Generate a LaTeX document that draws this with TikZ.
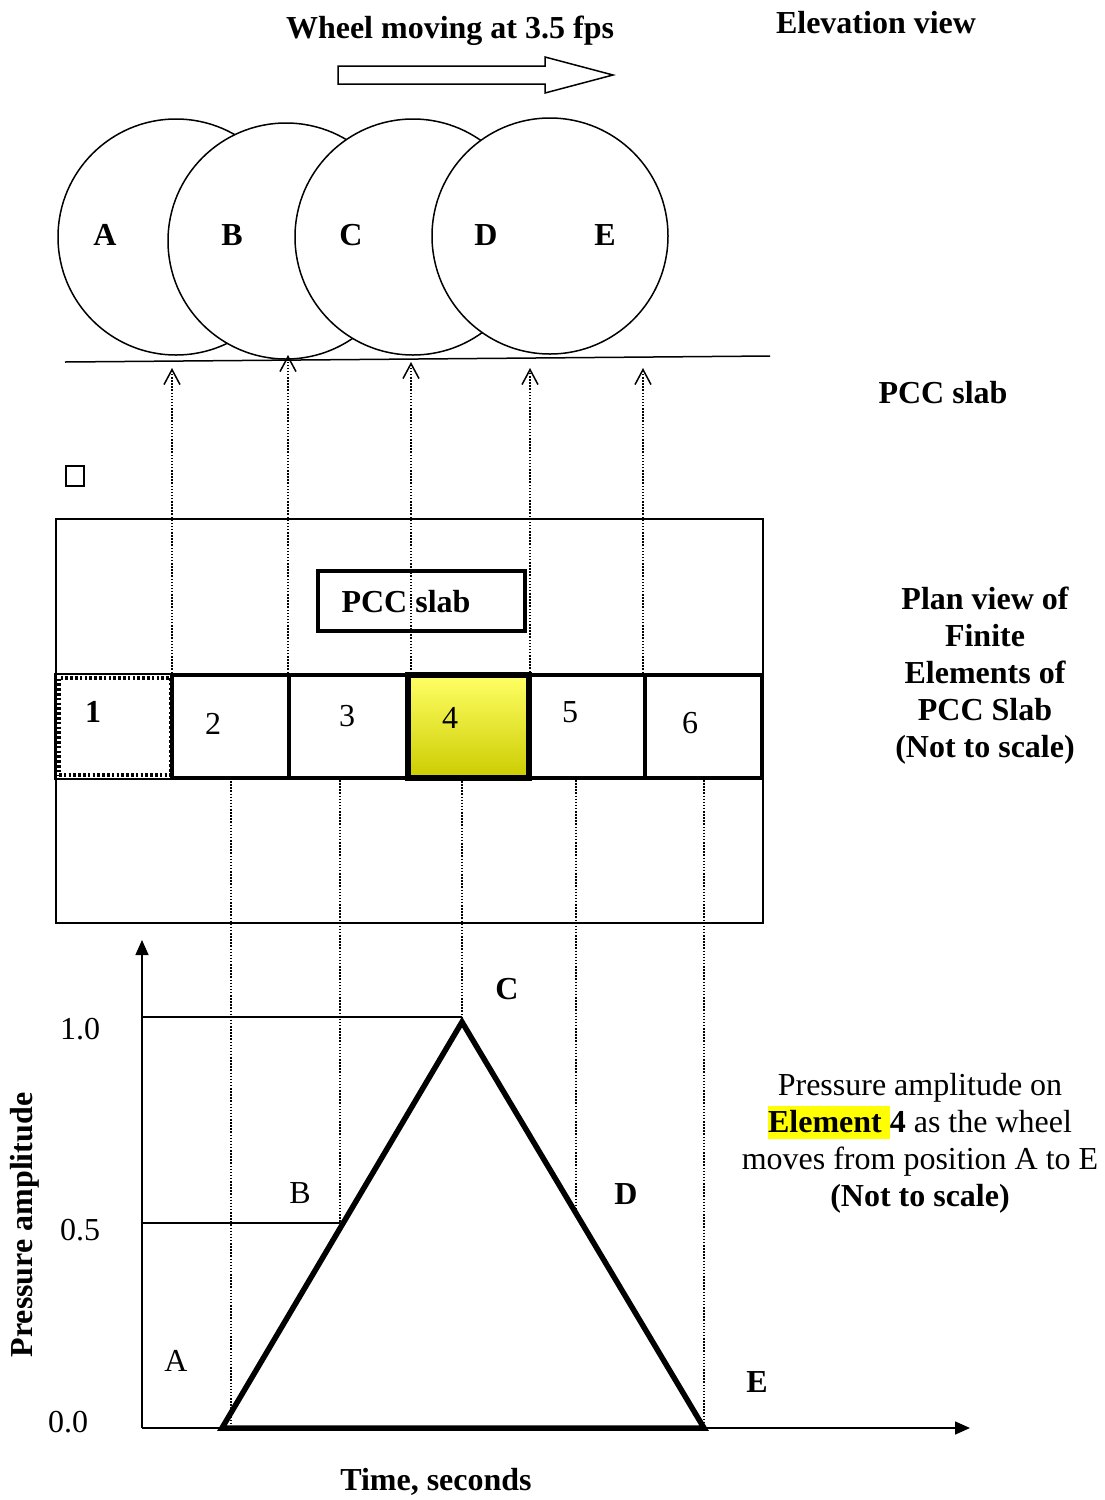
\documentclass[tikz,border=0pt]{standalone}
\usepackage{fontspec}
\setmainfont{Liberation Serif}
\usetikzlibrary{arrows.meta}
\definecolor{ytop}{HTML}{FFFF66}
\definecolor{ybot}{HTML}{CCCC00}
\definecolor{hl}{HTML}{FFFF00}
\begin{document}
\begin{tikzpicture}[x=1pt,y=-1pt,
  txt/.style={font=\fontsize{32}{37}\selectfont, inner sep=0pt},
  btxt/.style={font=\fontsize{32}{37}\selectfont\bfseries, inner sep=0pt},
  wheel/.style={circle, draw, line width=1.5pt, fill=white, minimum size=236pt, inner sep=0pt},
  elem/.style={rectangle, draw, line width=4pt, minimum height=103pt, inner sep=0pt},
  dotln/.style={line width=1.5pt, dash pattern=on 1.5pt off 1.6pt},
  fineln/.style={line width=1.5pt},
  uptip/.style={-{Straight Barb[length=15pt,width=16pt,line width=1.5pt]}},
  axtip/.style={-{Triangle[length=15pt,width=13pt]}},
]
\useasboundingbox (0,0) rectangle (1104,1500);
\fill[white] (0,0) rectangle (1104,1500);

% ---------- Elevation view ----------
\node[btxt] (title) at (450,31) {Wheel moving at 3.5 fps};
\node[btxt] (elev) at (876,23) {Elevation view};
\draw[fineln, fill=white] (338,66) -- (545,66) -- (545,57) -- (613,75) -- (545,93) -- (545,84) -- (338,84) -- cycle;

\node[wheel] (wA) at (176,237) {};
\node[wheel] (wB) at (286,241) {};
\node[wheel] (wC) at (413,237) {};
\node[wheel] (wD) at (550,236) {};
\node[btxt] (lA) at (105,235) {A};
\node[btxt] (lB) at (232,235) {B};
\node[btxt] (lC) at (351,235) {C};
\node[btxt] (lD) at (486,235) {D};
\node[btxt] (lE) at (605,235) {E};

\coordinate (g1) at (65,362);
\coordinate (g2) at (770,356);
\draw[fineln] (g1) -- (g2);
\node[btxt] (pccside) at (943,393) {PCC slab};

% ---------- Plan view ----------
\node[draw, line width=1.5pt, minimum width=18pt, minimum height=20pt, inner sep=0pt] (sq) at (75,476) {};
\node[draw, line width=1.5pt, minimum width=707pt, minimum height=404pt, inner sep=0pt, anchor=north west] (plan) at (55,518) {};
\node[draw, line width=4.5pt, minimum width=207pt, minimum height=60pt, inner sep=0pt] (pccbox) at (421.5,601) {};

\draw[line width=1.5pt] (172,674) -- (55,674) -- (55,779) -- (172,779);
\node[elem, minimum width=112pt, minimum height=97pt, line width=3.5pt, dash pattern=on 2.6pt off 2.2pt] (e1) at (115,726.5) {};
\node[elem, minimum width=117pt] (e2) at (230.5,726.5) {};
\node[elem, minimum width=119pt] (e3) at (348.5,726.5) {};
\node[elem, minimum width=121pt, line width=6pt, top color=ytop, bottom color=ybot] (e4) at (468.5,726.5) {};
\node[elem, minimum width=116pt] (e5) at (587,726.5) {};
\node[elem, minimum width=117pt] (e6) at (703.5,726.5) {};
\node[btxt] (n1) at (93,712) {1};
\node[txt] (n2) at (213,724) {2};
\node[txt] (n3) at (347,716) {3};
\node[txt] (n4) at (450,718) {4};
\node[txt] (n5) at (570,712) {5};
\node[txt] (n6) at (690,723) {6};

\coordinate (tA) at (172,368);
\coordinate (tB) at (288,355);
\coordinate (tC) at (411,362);
\coordinate (tD) at (530,368);
\coordinate (tE) at (643,368);
\draw[dotln, uptip] (tA |- e2.north) -- (tA);
\draw[dotln, uptip] (tB |- e2.north) -- (tB);
\draw[dotln, uptip] (tC |- e3.north) -- (tC);
\draw[dotln, uptip] (tD |- e4.north) -- (tD);
\draw[dotln, uptip] (tE |- e5.north) -- (tE);

\node[btxt] (pcctext) at (406,602) {PCC slab};

\node[btxt, align=center] (planlbl) at (985,676) {Plan view of\\Finite\\Elements of\\PCC Slab\\(Not to scale)};

% ---------- Graph ----------
\coordinate (O) at (142,1428);
\coordinate (yend) at (142,940);
\coordinate (xend) at (970,1428);
\coordinate (t0) at (222,1428);
\coordinate (pk) at (462,1022);
\coordinate (t1) at (704,1428);
\coordinate (hB) at (340,1223);
\coordinate (hD) at (576,1214);
\coordinate (one) at (142,1017);
\coordinate (half) at (142,1223);

\draw[fineln, axtip] (O) -- (yend);
\draw[fineln, axtip] (O) -- (xend);
\draw[fineln] (one) -- (pk |- one);
\draw[fineln] (half) -- (hB);

\draw[dotln] (231,778) -- (231,1428);
\draw[dotln] (hB |- e3.south) -- (hB);
\draw[dotln] (pk |- e4.south) -- (pk |- one);
\draw[dotln] (hD |- e5.south) -- (hD);
\draw[dotln] (t1 |- e6.south) -- (t1);

\draw[line width=5.5pt, line join=miter] (t0) -- (pk) -- (t1) -- cycle;

\node[txt] (y10) at (80,1029) {1.0};
\node[txt] (y05) at (80,1230) {0.5};
\node[txt] (y00) at (68,1422) {0.0};
\node[txt] (gA) at (176,1361) {A};
\node[txt] (gB) at (300,1193) {B};
\node[btxt] (gC) at (507,989) {C};
\node[btxt] (gD) at (626,1194) {D};
\node[btxt] (gE) at (757,1382) {E};
\node[btxt, rotate=90] (ylab) at (25,1225) {Pressure amplitude};
\node[btxt] (xlab) at (436,1482) {Time, seconds};

\node[txt, align=center] (cap) at (920,1143) {Pressure amplitude on\\{\setlength{\fboxsep}{0pt}\colorbox{hl}{\rule[-7pt]{0pt}{33pt}\textbf{Element }}}\textbf{4} as the wheel\\moves from position A to E\\\textbf{(Not to scale)}};
\end{tikzpicture}
\end{document}
